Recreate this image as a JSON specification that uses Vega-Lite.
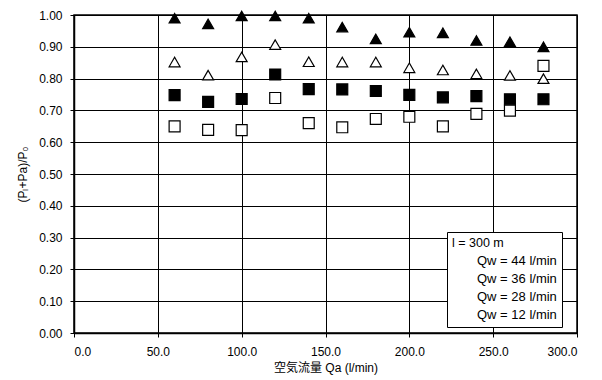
{
  "$schema": "https://vega.github.io/schema/vega-lite/v6.json",
  "width": 503,
  "height": 318,
  "autosize": {"type": "none"},
  "padding": {"left": 74, "top": 15, "right": 25, "bottom": 47},
  "background": "white",
  "config": {
    "font": "Liberation Sans, Arial, Noto Sans CJK JP",
    "view": {"stroke": "black", "strokeWidth": 1.5},
    "axis": {
      "labelFont": "Liberation Sans",
      "labelFontSize": 12,
      "labelColor": "black",
      "titleFont": "Liberation Sans, Noto Sans CJK JP",
      "titleFontSize": 12,
      "titleFontWeight": "normal",
      "titleColor": "black",
      "gridColor": "black",
      "gridOpacity": 1,
      "gridWidth": 1,
      "domainColor": "black",
      "domainWidth": 1.5,
      "tickColor": "black",
      "tickSize": 4
    },
    "legend": {
      "orient": "none",
      "legendX": 373,
      "legendY": 217,
      "strokeColor": "black",
      "fillColor": "white",
      "padding": 5,
      "titleFontWeight": "normal",
      "titleFontSize": 12.5,
      "titleFont": "Liberation Sans",
      "titleColor": "black",
      "titlePadding": 5,
      "labelFontSize": 13,
      "labelFont": "Liberation Sans",
      "labelColor": "black",
      "labelOffset": 12,
      "rowPadding": 4,
      "symbolOpacity": 0,
      "symbolStrokeWidth": 0
    }
  },
  "data": {
    "values": [
      {"qa": 60, "ratio": 0.990, "series": "Qw = 44 l/min"},
      {"qa": 80, "ratio": 0.972, "series": "Qw = 44 l/min"},
      {"qa": 100, "ratio": 0.997, "series": "Qw = 44 l/min"},
      {"qa": 120, "ratio": 0.997, "series": "Qw = 44 l/min"},
      {"qa": 140, "ratio": 0.990, "series": "Qw = 44 l/min"},
      {"qa": 160, "ratio": 0.962, "series": "Qw = 44 l/min"},
      {"qa": 180, "ratio": 0.925, "series": "Qw = 44 l/min"},
      {"qa": 200, "ratio": 0.946, "series": "Qw = 44 l/min"},
      {"qa": 220, "ratio": 0.944, "series": "Qw = 44 l/min"},
      {"qa": 240, "ratio": 0.920, "series": "Qw = 44 l/min"},
      {"qa": 260, "ratio": 0.916, "series": "Qw = 44 l/min"},
      {"qa": 280, "ratio": 0.900, "series": "Qw = 44 l/min"},
      {"qa": 60, "ratio": 0.852, "series": "Qw = 36 l/min"},
      {"qa": 80, "ratio": 0.811, "series": "Qw = 36 l/min"},
      {"qa": 100, "ratio": 0.868, "series": "Qw = 36 l/min"},
      {"qa": 120, "ratio": 0.907, "series": "Qw = 36 l/min"},
      {"qa": 140, "ratio": 0.853, "series": "Qw = 36 l/min"},
      {"qa": 160, "ratio": 0.852, "series": "Qw = 36 l/min"},
      {"qa": 180, "ratio": 0.852, "series": "Qw = 36 l/min"},
      {"qa": 200, "ratio": 0.834, "series": "Qw = 36 l/min"},
      {"qa": 220, "ratio": 0.827, "series": "Qw = 36 l/min"},
      {"qa": 240, "ratio": 0.815, "series": "Qw = 36 l/min"},
      {"qa": 260, "ratio": 0.810, "series": "Qw = 36 l/min"},
      {"qa": 280, "ratio": 0.800, "series": "Qw = 36 l/min"},
      {"qa": 60, "ratio": 0.748, "series": "Qw = 28 l/min"},
      {"qa": 80, "ratio": 0.727, "series": "Qw = 28 l/min"},
      {"qa": 100, "ratio": 0.736, "series": "Qw = 28 l/min"},
      {"qa": 120, "ratio": 0.813, "series": "Qw = 28 l/min"},
      {"qa": 140, "ratio": 0.767, "series": "Qw = 28 l/min"},
      {"qa": 160, "ratio": 0.766, "series": "Qw = 28 l/min"},
      {"qa": 180, "ratio": 0.761, "series": "Qw = 28 l/min"},
      {"qa": 200, "ratio": 0.749, "series": "Qw = 28 l/min"},
      {"qa": 220, "ratio": 0.741, "series": "Qw = 28 l/min"},
      {"qa": 240, "ratio": 0.745, "series": "Qw = 28 l/min"},
      {"qa": 260, "ratio": 0.735, "series": "Qw = 28 l/min"},
      {"qa": 280, "ratio": 0.735, "series": "Qw = 28 l/min"},
      {"qa": 60, "ratio": 0.650, "series": "Qw = 12 l/min"},
      {"qa": 80, "ratio": 0.639, "series": "Qw = 12 l/min"},
      {"qa": 100, "ratio": 0.638, "series": "Qw = 12 l/min"},
      {"qa": 120, "ratio": 0.739, "series": "Qw = 12 l/min"},
      {"qa": 140, "ratio": 0.660, "series": "Qw = 12 l/min"},
      {"qa": 160, "ratio": 0.647, "series": "Qw = 12 l/min"},
      {"qa": 180, "ratio": 0.673, "series": "Qw = 12 l/min"},
      {"qa": 200, "ratio": 0.680, "series": "Qw = 12 l/min"},
      {"qa": 220, "ratio": 0.650, "series": "Qw = 12 l/min"},
      {"qa": 240, "ratio": 0.689, "series": "Qw = 12 l/min"},
      {"qa": 260, "ratio": 0.699, "series": "Qw = 12 l/min"},
      {"qa": 280, "ratio": 0.840, "series": "Qw = 12 l/min"}
    ]
  },
  "mark": {"type": "point", "filled": true, "opacity": 1, "stroke": "black", "strokeWidth": 1.2},
  "encoding": {
    "x": {
      "field": "qa", "type": "quantitative",
      "scale": {"domain": [0, 300], "nice": false},
      "axis": {"values": [0, 50, 100, 150, 200, 250, 300], "format": ".1f", "title": "空気流量 Qa (l/min)", "labelPadding": 9, "titlePadding": 5}
    },
    "y": {
      "field": "ratio", "type": "quantitative",
      "scale": {"domain": [0, 1], "nice": false},
      "axis": {"values": [0, 0.1, 0.2, 0.3, 0.4, 0.5, 0.6, 0.7, 0.8, 0.9, 1.0], "format": ".2f", "title": "(Pₗ+Pa)/P₀", "labelPadding": 8, "titlePadding": 9}
    },
    "shape": {
      "field": "series", "type": "nominal",
      "scale": {"domain": ["Qw = 44 l/min", "Qw = 36 l/min", "Qw = 28 l/min", "Qw = 12 l/min"], "range": ["triangle-up", "triangle-up", "square", "square"]},
      "legend": {"title": "l = 300 m", "labelExpr": "datum.label + '\u00a0\u00a0\u00a0'"}
    },
    "fill": {
      "field": "series", "type": "nominal",
      "scale": {"domain": ["Qw = 44 l/min", "Qw = 36 l/min", "Qw = 28 l/min", "Qw = 12 l/min"], "range": ["black", "white", "black", "white"]},
      "legend": {"title": "l = 300 m", "labelExpr": "datum.label + '\u00a0\u00a0\u00a0'"}
    },
    "size": {
      "field": "series", "type": "nominal",
      "scale": {"domain": ["Qw = 44 l/min", "Qw = 36 l/min", "Qw = 28 l/min", "Qw = 12 l/min"], "range": [120, 120, 95, 95]},
      "legend": {"title": "l = 300 m", "labelExpr": "datum.label + '\u00a0\u00a0\u00a0'"}
    }
  }
}
